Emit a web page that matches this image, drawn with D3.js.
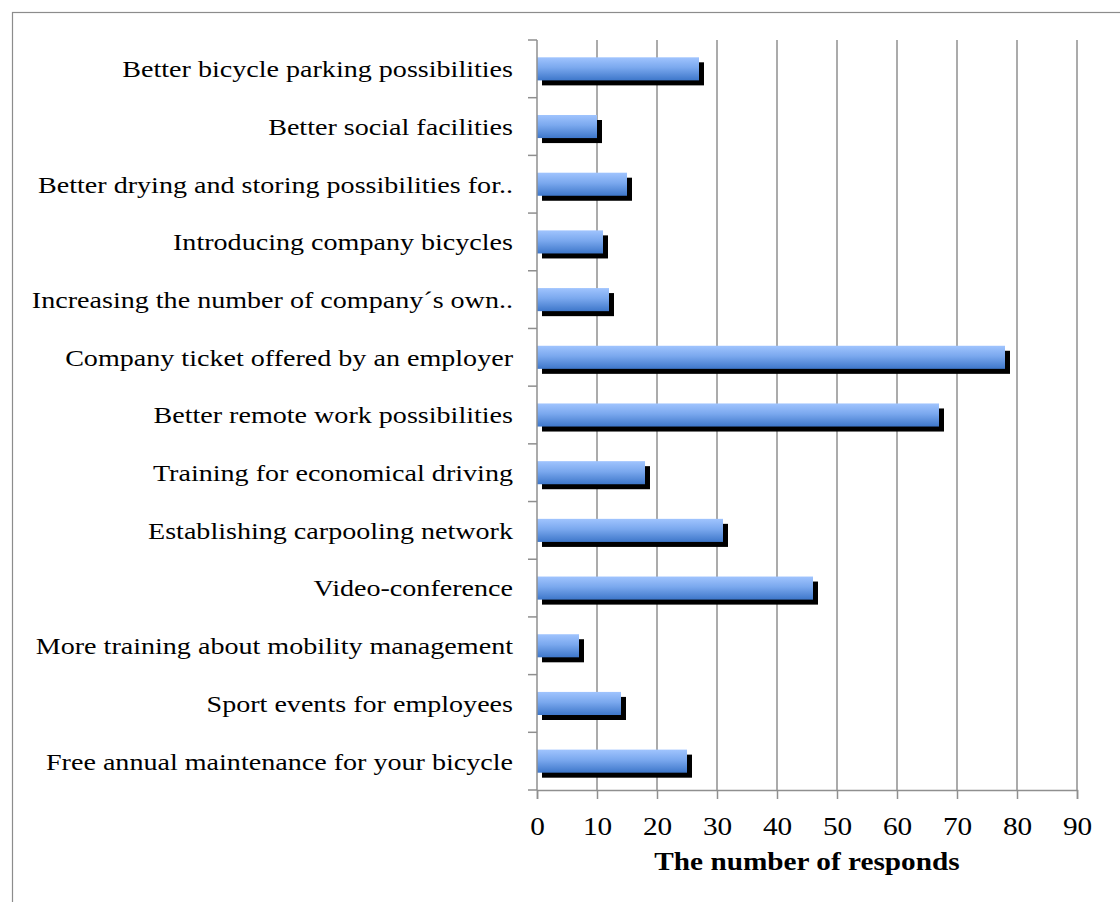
<!DOCTYPE html>
<html>
<head>
<meta charset="utf-8">
<script src="https://cdn.jsdelivr.net/npm/d3@7"></script>
<style>
  html, body { margin: 0; padding: 0; background: #fff; }
  svg { display: block; }
</style>
</head>
<body>
<svg id="chart" width="1120" height="902"></svg>
<script>
const categories = [
  "Better bicycle parking possibilities",
  "Better social facilities",
  "Better drying and storing possibilities for..",
  "Introducing company bicycles",
  "Increasing the number of company´s own..",
  "Company ticket offered by an employer",
  "Better remote work possibilities",
  "Training for economical driving",
  "Establishing carpooling network",
  "Video-conference",
  "More training about mobility management",
  "Sport events for employees",
  "Free annual maintenance for your bicycle"
];
const values = [27, 10, 15, 11, 12, 78, 67, 18, 31, 46, 7, 14, 25];
const xTicks = [0, 10, 20, 30, 40, 50, 60, 70, 80, 90];
const xTitle = "The number of responds";

const svg = d3.select("#chart");
const pLeft = 537, pRight = 1077, pTop = 40, pBottom = 790;
const font = "'Liberation Serif', 'Times New Roman', serif";
const stretch = 1.17;

function widen(sel) {
  sel.each(function () {
    const w = this.getComputedTextLength();
    d3.select(this).attr("textLength", w * stretch).attr("lengthAdjust", "spacingAndGlyphs");
  });
}

// frame
svg.append("rect").attr("x", 12.5).attr("y", 12.5).attr("width", 1130).attr("height", 920)
  .attr("fill", "#fff").attr("stroke", "#8c8c8c").attr("stroke-width", 1.2);

const x = d3.scaleLinear().domain([0, 90]).range([pLeft, pRight]);
const y = d3.scaleBand().domain(categories).range([pTop, pBottom]).paddingInner(0.6).paddingOuter(0.3);
const yb = d3.scaleBand().domain(categories).range([pTop, pBottom]);

const defs = svg.append("defs");
const grad = defs.append("linearGradient").attr("id", "barGrad").attr("x1", 0).attr("y1", 0).attr("x2", 0).attr("y2", 1);
grad.append("stop").attr("offset", "0%").attr("stop-color", "#a0c4fe");
grad.append("stop").attr("offset", "45%").attr("stop-color", "#7aa8ee");
grad.append("stop").attr("offset", "100%").attr("stop-color", "#3e77ca");

// gridlines
svg.append("g").selectAll("line").data(xTicks.slice(1)).join("line")
  .attr("x1", d => x(d)).attr("x2", d => x(d))
  .attr("y1", pTop).attr("y2", pBottom)
  .attr("stroke", "#8f8f8f").attr("stroke-width", 1.5);

// bars: shadow then blue
const barG = svg.append("g");
barG.selectAll("rect.sh").data(values).join("rect").attr("class", "sh")
  .attr("x", x(0) + 5)
  .attr("y", (d, i) => y(categories[i]) + 5)
  .attr("width", d => x(d) - x(0))
  .attr("height", y.bandwidth())
  .attr("fill", "#000");
barG.selectAll("rect.bar").data(values).join("rect").attr("class", "bar")
  .attr("x", x(0))
  .attr("y", (d, i) => y(categories[i]))
  .attr("width", d => x(d) - x(0))
  .attr("height", y.bandwidth())
  .attr("fill", "url(#barGrad)");

// x axis
const xAxis = svg.append("g").attr("transform", `translate(0,${pBottom})`)
  .call(d3.axisBottom(x).tickValues(xTicks).tickSize(9).tickPadding(18));
xAxis.select(".domain").attr("stroke", "#8f8f8f").attr("stroke-width", 1.5);
xAxis.selectAll(".tick line").attr("stroke", "#8f8f8f").attr("stroke-width", 1.5);
xAxis.selectAll(".tick text").attr("font-family", font).attr("font-size", 25).attr("fill", "#000")
  .call(widen);

// y axis with category boundary ticks
svg.append("line").attr("x1", pLeft).attr("x2", pLeft).attr("y1", pTop).attr("y2", pBottom)
  .attr("stroke", "#8f8f8f").attr("stroke-width", 1.5);
const bounds = categories.map(c => yb(c)).concat([pBottom]);
svg.append("g").selectAll("line").data(bounds).join("line")
  .attr("x1", pLeft - 9).attr("x2", pLeft)
  .attr("y1", d => d).attr("y2", d => d)
  .attr("stroke", "#8f8f8f").attr("stroke-width", 1.5);

// category labels
svg.append("g").selectAll("text").data(categories).join("text")
  .attr("x", 513)
  .attr("y", d => yb(d) + yb.bandwidth() / 2)
  .attr("dy", "0.35em")
  .attr("text-anchor", "end")
  .attr("font-family", font).attr("font-size", 24).attr("fill", "#000")
  .text(d => d)
  .call(widen);

// x title
svg.append("text").attr("x", (pLeft + pRight) / 2).attr("y", 870)
  .attr("text-anchor", "middle")
  .attr("font-family", font).attr("font-size", 25).attr("font-weight", "bold").attr("fill", "#000")
  .text(xTitle)
  .call(widen);
</script>
</body>
</html>
